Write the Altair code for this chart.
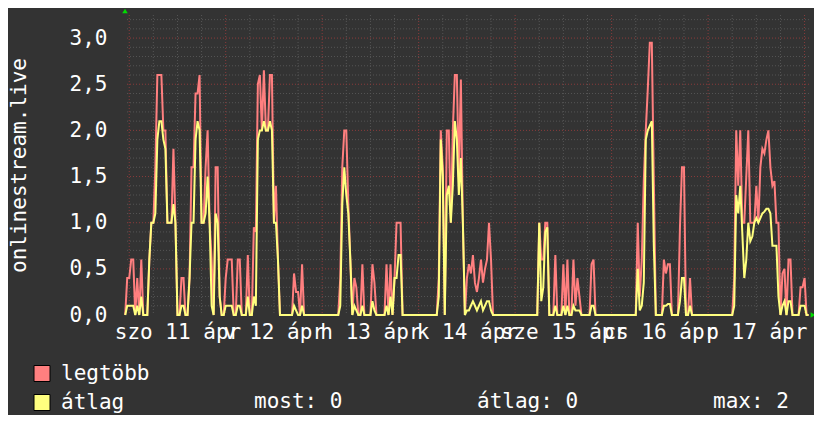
import altair as alt
import pandas as pd

# ---------------- data ----------------
series_names = ["legtöbb", "átlag"]
series_colors = ["#ff7f7f", "#ffff7f"]

# samples every 30 minutes, hour 0 = 04-11 00:00 (szo)
start_hour = -1.0
step_hours = 0.5

head_max = [0, 0.4]
head_avg = [0, 0.1]

apr11_max = [0.4, 0.6, 0.6, 0, 0.4, 0, 0.6, 0, 0, 0,
             0.6, 1.0, 1.0, 1.6, 2.6, 2.6, 2.6, 2.0, 2.0, 1.0,
             1.0, 1.0, 1.8, 1.0, 0, 0, 0.4, 0.4, 0, 0,
             0.4, 1.6, 1.6, 2.4, 2.4, 2.6, 1.0, 1.0, 1.6, 2.0,
             1.0, 0.6, 0, 1.6, 1.6, 0.2, 0, 0]
apr11_avg = [0.1, 0.1, 0.1, 0, 0.1, 0, 0.2, 0, 0, 0,
             0.6, 1.0, 1.0, 1.1, 1.9, 2.1, 2.1, 1.9, 1.8, 1.0,
             1.0, 1.0, 1.2, 1.0, 0, 0, 0.1, 0.1, 0, 0,
             0.4, 1.0, 1.0, 1.9, 2.1, 2.0, 1.0, 1.0, 1.1, 1.5,
             1.0, 0.1, 0, 1.1, 1.0, 0.2, 0, 0]

apr12_max = [0.4, 0.6, 0.6, 0.6, 0, 0, 0.6, 0.6, 0, 0,
             0, 0.65, 0, 0, 0.95, 0.9, 2.5, 2.6, 2.0, 2.65,
             2.0, 2.0, 2.6, 2.6, 1.0, 1.4, 0.6, 0, 0, 0,
             0, 0, 0, 0, 0.45, 0.25, 0.25, 0, 0.55, 0,
             0, 0, 0, 0, 0, 0, 0, 0]
apr12_avg = [0.1, 0.1, 0.1, 0.1, 0, 0, 0.1, 0.1, 0, 0,
             0, 0.2, 0, 0, 0.2, 0.1, 1.9, 2.0, 2.0, 2.1,
             2.0, 2.0, 2.1, 2.0, 1.0, 1.0, 0.6, 0, 0, 0,
             0, 0, 0, 0, 0.1, 0.05, 0, 0, 0.1, 0,
             0, 0, 0, 0, 0, 0, 0, 0]

apr13_max = [0, 0, 0, 0, 0, 0, 0, 0, 0, 0.4,
             1.6, 2.0, 2.0, 1.2, 0.6, 0, 0.4, 0.3, 0, 0,
             0.55, 0, 0, 0, 0, 0.55, 0.35, 0, 0, 0,
             0, 0, 0.55, 0, 0.55, 0, 0.4, 1.0, 1.0, 1.0,
             0, 0, 0, 0, 0, 0, 0, 0]
apr13_avg = [0, 0, 0, 0, 0, 0, 0, 0, 0, 0.1,
             1.2, 1.6, 1.3, 1.1, 0.6, 0, 0.1, 0.05, 0, 0,
             0.1, 0, 0, 0, 0, 0.15, 0.05, 0, 0, 0,
             0, 0, 0.1, 0, 0.2, 0, 0.4, 0.4, 0.65, 0.65,
             0, 0, 0, 0, 0, 0, 0, 0]

apr14_max = [0, 0, 0, 0, 0, 0, 0, 0, 0, 0,
             0.4, 2.0, 1.6, 0, 2.0, 2.0, 1.0, 2.0, 2.6, 2.6,
             1.5, 2.55, 1.0, 0, 0.4, 0.55, 0.45, 0.65, 0.35, 0.25,
             0.4, 0.6, 0.35, 0.5, 0.6, 1.0, 0.6, 0, 0, 0,
             0, 0, 0, 0, 0, 0, 0, 0]
apr14_avg = [0, 0, 0, 0, 0, 0, 0, 0, 0, 0,
             0.2, 1.9, 1.5, 0, 1.3, 1.4, 1.0, 1.4, 2.1, 1.9,
             1.3, 1.7, 1.0, 0, 0.05, 0.05, 0.1, 0.15, 0.1, 0.05,
             0.1, 0.15, 0.05, 0.1, 0.15, 0.15, 0.05, 0, 0, 0,
             0, 0, 0, 0, 0, 0, 0, 0]

apr15_max = [0, 0, 0, 0, 0, 0, 0, 0, 0, 0,
             0, 0, 1.0, 0.6, 0.6, 1.0, 1.0, 0, 0, 0,
             0.65, 0, 0, 0, 0.55, 0, 0.6, 0, 0, 0.6,
             0.1, 0.4, 0.2, 0, 0, 0, 0, 0, 0.55, 0.6,
             0, 0, 0, 0, 0, 0, 0, 0]
apr15_avg = [0, 0, 0, 0, 0, 0, 0, 0, 0, 0,
             0, 0, 1.0, 0.15, 0.3, 0.9, 0.95, 0, 0, 0,
             0.1, 0, 0, 0, 0.1, 0, 0.1, 0, 0, 0.1,
             0.05, 0.05, 0.05, 0, 0, 0, 0, 0, 0.1, 0.1,
             0, 0, 0, 0, 0, 0, 0, 0]

apr16_max = [0, 0, 0, 0, 0, 0, 0, 0, 0, 0,
             0, 0, 0, 1.0, 0.2, 0.6, 1.45, 2.0, 2.45, 2.95,
             2.95, 1.45, 0, 0, 0, 0, 0.6, 0.45, 0.55, 0.55,
             0, 0, 0, 0, 0.95, 1.6, 1.6, 0, 0, 0.4,
             0, 0, 0, 0, 0, 0, 0, 0]
apr16_avg = [0, 0, 0, 0, 0, 0, 0, 0, 0, 0,
             0, 0, 0, 0.5, 0.05, 0.1, 0.35, 1.9, 2.0, 2.05,
             2.1, 0.75, 0, 0, 0, 0, 0.1, 0.1, 0.12, 0.12,
             0, 0, 0, 0, 0.15, 0.4, 0.4, 0, 0, 0.1,
             0, 0, 0, 0, 0, 0, 0, 0]

apr17_max = [0, 0, 0, 0, 0, 0, 0, 0, 0, 0,
             0, 0, 0, 0.4, 2.0, 1.4, 2.0, 1.0, 1.0, 1.5,
             2.0, 1.0, 1.0, 1.0, 1.4, 1.0, 1.6, 1.8, 1.75, 1.9,
             2.0, 1.6, 1.4, 1.45, 1.0, 1.0, 0, 0.45, 0.5, 0,
             0.6, 0.6, 0, 0, 0, 0, 0.3, 0.3]
apr17_avg = [0, 0, 0, 0, 0, 0, 0, 0, 0, 0,
             0, 0, 0, 0.1, 1.3, 1.1, 1.4, 0.9, 0.4, 0.6,
             1.0, 0.8, 0.85, 1.0, 1.05, 1.0, 1.05, 1.1, 1.12, 1.15,
             1.15, 1.1, 0.75, 0.75, 0.75, 0.2, 0, 0.1, 0.15, 0,
             0.15, 0.15, 0, 0, 0, 0, 0.1, 0.1]

tail_max = [0.4, 0, 0]
tail_avg = [0.1, 0, 0]

# axis labels / grid positions (hours)
day_labels = ["szo 11 ápr", "v 12 ápr", "h 13 ápr", "k 14 ápr",
              "sze 15 ápr", "cs 16 ápr", "p 17 ápr"]
label_hours = [12, 36, 60, 84, 108, 132, 156]
major_x = [0, 24, 48, 72, 96, 120, 144, 168]
minor_x = [6, 12, 18, 30, 36, 42, 54, 60, 66, 78, 84, 90, 102, 108, 114,
           126, 132, 138, 150, 156, 162]
major_y = [0.5, 1.0, 1.5, 2.0, 2.5, 3.0]
minor_y = [0.1, 0.2, 0.3, 0.4, 0.6, 0.7, 0.8, 0.9, 1.1, 1.2, 1.3, 1.4,
           1.6, 1.7, 1.8, 1.9, 2.1, 2.2, 2.3, 2.4, 2.6, 2.7, 2.8, 2.9,
           3.1, 3.2]
y_ticks = [0, 0.5, 1.0, 1.5, 2.0, 2.5, 3.0]
y_title = "onlinestream.live"
stat_texts = ["most: 0", "átlag: 0", "max: 2"]

# ---------------- tables ----------------
max_all = head_max + apr11_max + apr12_max + apr13_max + apr14_max + apr15_max + apr16_max + apr17_max + tail_max
avg_all = head_avg + apr11_avg + apr12_avg + apr13_avg + apr14_avg + apr15_avg + apr16_avg + apr17_avg + tail_avg
hours = [start_hour + step_hours * i for i in range(len(max_all))]

df_max = pd.DataFrame({"h": hours, "v": max_all})
df_avg = pd.DataFrame({"h": hours, "v": avg_all})

FONT = "DejaVu Sans Mono"
FS = 21
x_scale = alt.Scale(domain=[-1.05, 169.1], nice=False, zero=False)
y_scale = alt.Scale(domain=[0, 3.25], nice=False, zero=False)

label_expr = "''"
for hh, lab in reversed(list(zip(label_hours, day_labels))):
    label_expr = f"datum.value == {hh} ? '{lab}' : ({label_expr})"

x_axis = alt.Axis(values=label_hours, labelExpr=label_expr, grid=False, domain=False,
                  ticks=False, tickSize=0, labelPadding=23, labelBaseline="alphabetic",
                  labelAlign="center", labelOverlap=False, labelFlush=False, labelBound=False,
                  labelFont=FONT, labelFontSize=FS, labelColor="#ffffff", title=None)
y_axis = alt.Axis(values=y_ticks, labelExpr="replace(format(datum.value, '.1f'), '.', ',')",
                  grid=False, domain=False, ticks=False, tickSize=0, labelPadding=18,
                  labelFont=FONT, labelFontSize=FS, labelColor="#ffffff",
                  title=y_title, titleFont=FONT, titleFontSize=FS, titleFontWeight="normal",
                  titleColor="#ffffff", titleAngle=270, titleX=-106, titleY=150,
                  titleAlign="center", titleBaseline="middle")

def vgrid(vals, color):
    return alt.Chart(pd.DataFrame({"h": vals})).mark_rule(
        color=color, strokeWidth=1, strokeDash=[1, 2]).encode(
        x=alt.X("h:Q", scale=x_scale, axis=x_axis))

def hgrid(vals, color):
    return alt.Chart(pd.DataFrame({"v": vals})).mark_rule(
        color=color, strokeWidth=1, strokeDash=[1, 2]).encode(
        y=alt.Y("v:Q", scale=y_scale, axis=y_axis))

minor_col = "#555555"
major_col = "#8a3b3b"

line_max = alt.Chart(df_max).mark_line(color=series_colors[0], strokeWidth=2).encode(
    x=alt.X("h:Q", scale=x_scale, axis=x_axis),
    y=alt.Y("v:Q", scale=y_scale, axis=y_axis))
line_avg = alt.Chart(df_avg).mark_line(color=series_colors[1], strokeWidth=2).encode(
    x=alt.X("h:Q", scale=x_scale, axis=x_axis),
    y=alt.Y("v:Q", scale=y_scale, axis=y_axis))

legend_layer = alt.Chart(pd.DataFrame({"series": series_names})).mark_square(
    stroke="black", strokeWidth=1).encode(
    color=alt.Color("series:N", scale=alt.Scale(domain=series_names, range=series_colors),
                    legend=alt.Legend(orient="none", legendX=-93.5, legendY=348, direction="vertical",
                                      title=None, symbolType="square", symbolSize=256,
                                      symbolStrokeColor="black", symbolStrokeWidth=1,
                                      symbolOpacity=1, labelFont=FONT, labelFontSize=FS,
                                      labelColor="#ffffff", labelOffset=8.5, rowPadding=7,
                                      padding=0, labelLimit=400))
).transform_filter("false")

stat_x = [129, 352, 588]
stat_layers = [
    alt.Chart(pd.DataFrame({"t": [t]})).mark_text(
        align="left", baseline="alphabetic", font=FONT, fontSize=FS, color="#ffffff").encode(
        text="t:N", x=alt.value(sx), y=alt.value(393))
    for t, sx in zip(stat_texts, stat_x)
]

arrow_up = alt.Chart(pd.DataFrame({"a": [0]})).mark_point(
    shape="triangle-up", filled=True, color="#00dd00", size=30, opacity=1).encode(
    x=alt.value(0), y=alt.value(-4))
arrow_right = alt.Chart(pd.DataFrame({"a": [0]})).mark_point(
    shape="triangle-right", filled=True, color="#00dd00", size=30, opacity=1).encode(
    x=alt.value(688), y=alt.value(300))

chart = alt.layer(
    vgrid(minor_x, minor_col), hgrid(minor_y, minor_col),
    vgrid(major_x, major_col), hgrid(major_y, major_col),
    line_max, line_avg, legend_layer, *stat_layers, arrow_up, arrow_right
).properties(
    width=684, height=300,
    padding={"left": 117, "top": 7, "right": 5, "bottom": 100},
    autosize=alt.AutoSizeParams(type="none"),
).configure(background="#333333").configure_view(fill="#222222", stroke=None)

chart.save("out.html", embed_options={"renderer": "svg", "actions": False})
